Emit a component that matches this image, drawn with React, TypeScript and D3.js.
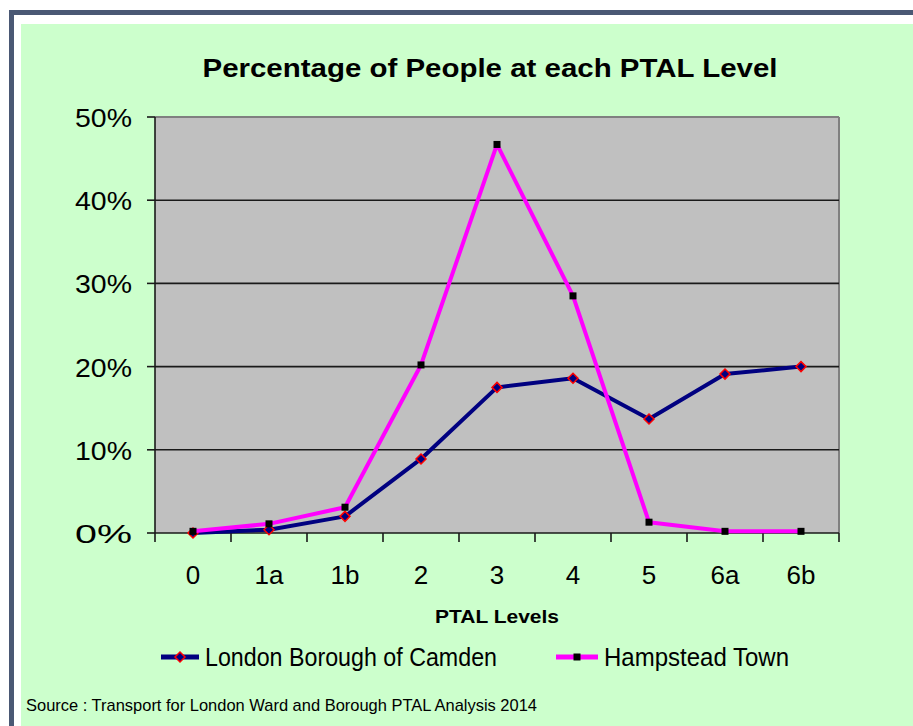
import React from "react";
import * as d3 from "d3";

const categories = ["0", "1a", "1b", "2", "3", "4", "5", "6a", "6b"];
const camden = [0.0, 0.4, 2.0, 8.9, 17.5, 18.6, 13.7, 19.1, 20.0];
const hampstead = [0.2, 1.1, 3.1, 20.2, 46.7, 28.5, 1.3, 0.2, 0.2];
const yTicks = [0, 10, 20, 30, 40, 50];
const seriesNames = ["London Borough of Camden", "Hampstead Town"];
const title = "Percentage of People at each PTAL Level";
const xTitle = "PTAL Levels";
const source = "Source : Transport for London Ward and Borough PTAL Analysis 2014";

const W = 913;
const H = 726;
const plot = { left: 155, right: 839, top: 117, bottom: 533 };
const FONT = "'Liberation Sans', Arial, sans-serif";

export default function App() {
  const x = d3.scaleBand<string>().domain(categories).range([plot.left, plot.right]);
  const y = d3.scaleLinear().domain([0, 50]).range([plot.bottom, plot.top]);
  const cx = (c: string) => (x(c) as number) + x.bandwidth() / 2;
  const line = d3
    .line<number>()
    .x((_, i) => cx(categories[i]))
    .y((d) => y(d));

  const boundaries = categories.map((c) => x(c) as number).concat([plot.right]);
  const diamond = (px: number, py: number, r: number) =>
    `M${px},${py - r}L${px + r},${py}L${px},${py + r}L${px - r},${py}Z`;

  return (
    <svg
      width={W}
      height={H}
      style={{ position: "absolute", left: 0, top: 0, display: "block" }}
      fontFamily={FONT}
    >
      <rect x={0} y={0} width={W} height={H} fill="#ffffff" />
      <rect x={11.5} y={12.5} width={W + 20} height={H + 20} fill="none" stroke="#4a5874" strokeWidth={5} />
      <rect x={21} y={24} width={W - 21} height={H - 24} fill="#ccffcc" />

      <text x={490} y={77} textAnchor="middle" fontSize={25} fontWeight="bold" textLength={575} lengthAdjust="spacingAndGlyphs">
        {title}
      </text>

      <rect x={plot.left} y={plot.top} width={plot.right - plot.left} height={plot.bottom - plot.top} fill="#c0c0c0" />
      <line x1={plot.left} x2={plot.right} y1={plot.top} y2={plot.top} stroke="#808080" strokeWidth={2} />
      <line x1={plot.right} x2={plot.right} y1={plot.top} y2={plot.bottom} stroke="#808080" strokeWidth={2} />

      {yTicks.slice(1, -1).map((t) => (
        <line key={"g" + t} x1={plot.left} x2={plot.right} y1={y(t)} y2={y(t)} stroke="#1a1a1a" strokeWidth={1.6} />
      ))}

      <line x1={plot.left} x2={plot.left} y1={plot.top} y2={plot.bottom} stroke="#1a1a1a" strokeWidth={1.6} />
      <line x1={plot.left} x2={plot.right} y1={plot.bottom} y2={plot.bottom} stroke="#1a1a1a" strokeWidth={1.6} />

      {yTicks.map((t) => (
        <g key={"yt" + t}>
          <line x1={plot.left - 8} x2={plot.left} y1={y(t)} y2={y(t)} stroke="#1a1a1a" strokeWidth={1.6} />
          <text x={132} y={y(t) + 10} textAnchor="end" fontSize={26} textLength={57} lengthAdjust="spacingAndGlyphs">
            {t + "%"}
          </text>
        </g>
      ))}

      {boundaries.map((b, i) => (
        <line key={"xt" + i} x1={b} x2={b} y1={plot.bottom} y2={plot.bottom + 9} stroke="#1a1a1a" strokeWidth={1.6} />
      ))}
      {categories.map((c) => (
        <text key={"xl" + c} x={cx(c)} y={584} textAnchor="middle" fontSize={26}>
          {c}
        </text>
      ))}
      <text x={497} y={623} textAnchor="middle" fontSize={19} fontWeight="bold" textLength={124} lengthAdjust="spacingAndGlyphs">
        {xTitle}
      </text>

      <path d={line(camden) || ""} fill="none" stroke="#000080" strokeWidth={4} strokeLinejoin="round" />
      {camden.map((v, i) => (
        <path key={"cm" + i} d={diamond(cx(categories[i]), y(v), 5)} fill="#000080" stroke="#ff0000" strokeWidth={1.5} />
      ))}
      <path d={line(hampstead) || ""} fill="none" stroke="#ff00ff" strokeWidth={4} strokeLinejoin="round" />
      {hampstead.map((v, i) => (
        <rect key={"hm" + i} x={cx(categories[i]) - 3.5} y={y(v) - 3.5} width={7} height={7} fill="#000000" />
      ))}

      <line x1={161} x2={199} y1={657} y2={657} stroke="#000080" strokeWidth={5} />
      <path d={diamond(180, 657, 5)} fill="#000080" stroke="#ff0000" strokeWidth={1.5} />
      <text x={205} y={666} fontSize={26} textLength={292} lengthAdjust="spacingAndGlyphs">
        {seriesNames[0]}
      </text>
      <line x1={556} x2={598} y1={657} y2={657} stroke="#ff00ff" strokeWidth={5} />
      <rect x={573.5} y={653.5} width={7} height={7} fill="#000000" />
      <text x={604} y={666} fontSize={26} textLength={185} lengthAdjust="spacingAndGlyphs">
        {seriesNames[1]}
      </text>

      <text x={26} y={711} fontSize={17} textLength={511} lengthAdjust="spacingAndGlyphs">
        {source}
      </text>
    </svg>
  );
}
